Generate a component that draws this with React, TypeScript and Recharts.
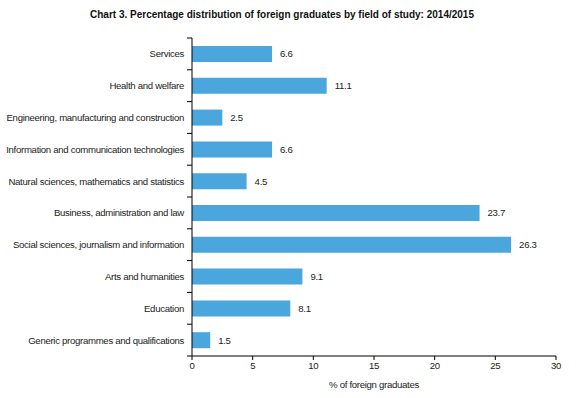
import { BarChart, Bar, XAxis, YAxis, LabelList, Label } from "recharts";

const fields = [
  "Services",
  "Health and welfare",
  "Engineering, manufacturing and construction",
  "Information and communication technologies",
  "Natural sciences, mathematics and statistics",
  "Business, administration and law",
  "Social sciences, journalism and information",
  "Arts and humanities",
  "Education",
  "Generic programmes and qualifications",
];

const shares = [6.6, 11.1, 2.5, 6.6, 4.5, 23.7, 26.3, 9.1, 8.1, 1.5];

const xTicks = [0, 5, 10, 15, 20, 25, 30];

const data = fields.map((field, i) => ({ field, share: shares[i] }));

const FONT = "'Liberation Sans', Arial, sans-serif";
const FS = 9.6;
const LS = -0.3;
const W = 576;
const H = 398;
const M = { top: 38, right: 20, bottom: 0, left: 0 };
const X_AXIS_H = 42;
const PLOT_H = H - M.top - M.bottom - X_AXIS_H;
const TICK_SIZE = 6;
const TICK_MARGIN = 2;

const textStyle = { fontSize: FS, fill: "#222", fontFamily: FONT, letterSpacing: LS };

// category label plus small tick marks on the band edges
function FieldTick(props: any) {
  const x = Number(props.x);
  const y = Number(props.y);
  const idx = fields.indexOf(props.payload?.value);
  const half = PLOT_H / fields.length / 2;
  const ax = x + TICK_SIZE + TICK_MARGIN;
  const last = idx === fields.length - 1;
  return (
    <g>
      <path d={`M${ax - 5},${y - half}H${ax}`} stroke="#000" strokeWidth={1} fill="none" />
      {last && <path d={`M${ax - 5},${y + half}H${ax}`} stroke="#000" strokeWidth={1} fill="none" />}
      <text x={x} y={y} dy="0.355em" textAnchor="end" style={textStyle}>
        {props.payload.value}
      </text>
    </g>
  );
}

export default function App() {
  return (
    <div style={{ position: "relative", width: W, height: H, background: "#fff", fontFamily: FONT }}>
      <style>{"body{margin:0}"}</style>
      <div
        style={{
          position: "absolute",
          top: 9,
          left: 0,
          width: 564,
          textAlign: "center",
          fontSize: 10,
          fontWeight: "bold",
          color: "#111",
        }}
      >
        Chart 3. Percentage distribution of foreign graduates by field of study: 2014/2015
      </div>
      <BarChart width={W} height={H} data={data} layout="vertical" margin={M} barSize={16}>
        <XAxis
          type="number"
          domain={[0, 30]}
          ticks={xTicks}
          height={X_AXIS_H}
          tick={textStyle}
          tickSize={4}
          stroke="#000"
          axisLine={{ stroke: "#000" }}
        >
          <Label value="% of foreign graduates" position="insideBottom" offset={10} style={textStyle} />
        </XAxis>
        <YAxis
          type="category"
          dataKey="field"
          width={192}
          tickLine={false}
          tickSize={TICK_SIZE}
          tickMargin={TICK_MARGIN}
          axisLine={{ stroke: "#000" }}
          tick={(p: any) => <FieldTick {...p} />}
          interval={0}
        />
        <Bar dataKey="share" fill="#4aa6dd" isAnimationActive={false}>
          <LabelList
            dataKey="share"
            position="right"
            offset={8}
            formatter={(v: number) => v.toFixed(1)}
            style={textStyle}
          />
        </Bar>
      </BarChart>
    </div>
  );
}
